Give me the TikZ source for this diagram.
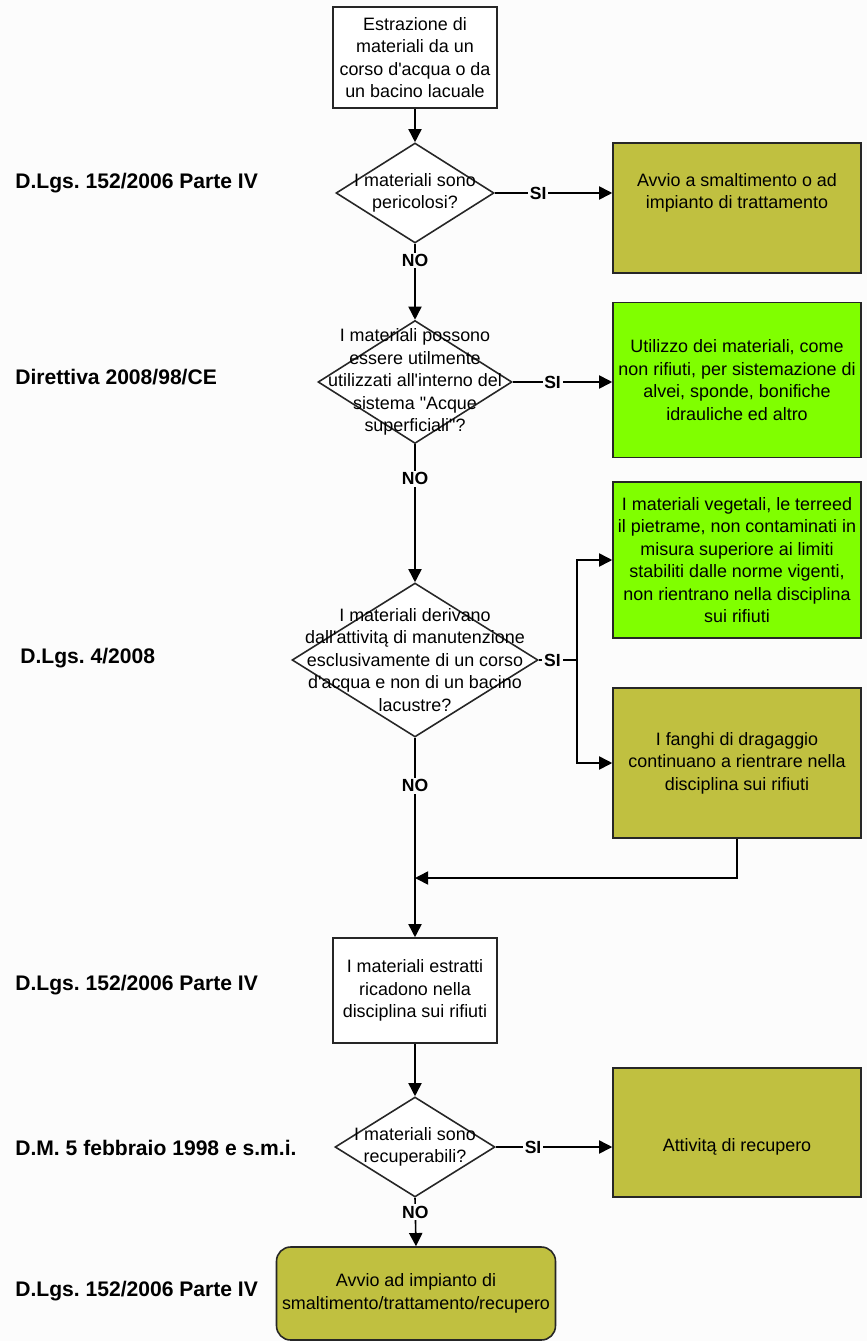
\documentclass[tikz,border=0pt]{standalone}
\usepackage{fontspec}
\setmainfont{Liberation Sans}[Ligatures=TeXOff]
\usetikzlibrary{shapes.geometric,arrows.meta,calc}
\definecolor{olivebox}{HTML}{C0C040}
\definecolor{greenbox}{HTML}{80FF00}
\definecolor{paper}{HTML}{FCFCFC}
\frenchspacing

\begin{document}
\begin{tikzpicture}[
  x=0.02cm,y=-0.02cm,
  font=\fontsize{10.2}{12.8}\selectfont,
  stepbox/.style={rectangle,draw=black!85,fill=white,line width=0.9pt,align=center,inner sep=0pt,minimum width=3.28cm},
  decision/.style={diamond,draw=black!85,fill=white,line width=0.9pt,inner sep=0pt},
  qtext/.style={align=center,inner sep=0pt},
  outbox/.style={rectangle,draw=black!85,fill=olivebox,line width=0.9pt,align=center,inner sep=0pt,minimum width=4.96cm},
  okbox/.style={rectangle,draw=black!85,fill=greenbox,line width=0.9pt,align=center,inner sep=0pt,minimum width=4.96cm},
  norm/.style={anchor=west,inner sep=0pt,font=\bfseries\fontsize{12}{14}\selectfont},
  answer/.style={fill=paper,inner sep=1pt,font=\bfseries\fontsize{10}{12}\selectfont},
  arrow/.style={-{Triangle[length=7.5pt,width=7.5pt]},line width=0.9pt},
  link/.style={line width=0.9pt}
]
\fill[paper] (0,0) rectangle (867,1341);
\useasboundingbox (0,0) rectangle (867,1341);

% left column: reference norms
\node[norm] (n1) at (15,183) {D.Lgs. 152/2006 Parte IV};
\node[norm] (n2) at (15,377) {Direttiva 2008/98/CE};
\node[norm] (n3) at (20,658) {D.Lgs. 4/2008};
\node[norm] (n4) at (15,985) {D.Lgs. 152/2006 Parte IV};
\node[norm] (n5) at (15,1148) {D.M. 5 febbraio 1998 e s.m.i.};
\node[norm] (n6) at (15,1291) {D.Lgs. 152/2006 Parte IV};

% main column
\node[stepbox,minimum height=2.02cm] (start) at (415,57.5) {Estrazione di\\materiali da un\\corso d'acqua o da\\un bacino lacuale};

\node[decision,minimum width=3.16cm,minimum height=2cm] (q1) at (415,193) {};
\node[qtext] (q1t) at (q1) {I materiali sono\\pericolosi?};

\node[decision,minimum width=3.88cm,minimum height=2.46cm] (q2) at (415,382) {};
\node[qtext] (q2t) at (q2) {I materiali possono\\essere utilmente\\utilizzati all'interno del\\sistema "Acque\\superficiali"?};

\node[decision,minimum width=4.92cm,minimum height=3.08cm] (q3) at (415,660) {};
\node[qtext] (q3t) at (q3) {I materiali derivano\\dall'attivitą di manutenzione\\esclusivamente di un corso\\d'acqua e non di un bacino\\lacustre?};

\coordinate (merge) at (415,878);

\node[stepbox,minimum height=2.1cm] (rifiuti) at (415,990.5) {I materiali estratti\\ricadono nella\\disciplina sui rifiuti};

\node[decision,minimum width=3.2cm,minimum height=2cm] (q4) at (415,1147) {};
\node[qtext] (q4t) at (q4) {I materiali sono\\recuperabili?};

\node[outbox,rounded corners=8pt,minimum width=5.58cm,minimum height=1.86cm] (impianto) at (416,1293.5) {Avvio ad impianto di\\smaltimento/trattamento/recupero};

% right column: outcomes
\node[outbox,minimum height=2.6cm] (smalt) at (737,208) {};
\node[qtext] (smaltt) at (q1 -| smalt) {Avvio a smaltimento o ad\\impianto di trattamento};

\node[okbox,minimum height=3.1cm] (utilizzo) at (737,380) {Utilizzo dei materiali, come\\non rifiuti, per sistemazione di\\alvei, sponde, bonifiche\\idrauliche ed altro};

\coordinate (split) at (577,660);
\node[okbox,minimum height=3.12cm] (vegetali) at (737,560) {I materiali vegetali, le terreed\\il pietrame, non contaminati in\\misura superiore ai limiti\\stabiliti dalle norme vigenti,\\non rientrano nella disciplina\\sui rifiuti};
\node[outbox,minimum height=3cm] (fanghi) at (737,763) {I fanghi di dragaggio\\continuano a rientrare nella\\disciplina sui rifiuti};

\node[outbox,minimum height=2.58cm] (recupero) at (737,1132.5) {};
\node[qtext] (recuperot) at (q4 -| recupero) {Attivitą di recupero};

% connectors
\draw[arrow] (start) -- (q1);
\draw[arrow] (q1.east) -- node[answer,pos=0.37]{SI} (q1 -| smalt.west);
\draw[arrow] (q1.south) -- node[answer,pos=0.22]{NO} (q2.north);
\draw[arrow] (q2.east) -- node[answer,pos=0.4]{SI} (q2 -| utilizzo.west);
\draw[arrow] (q2.south) -- node[answer,pos=0.25]{NO} (q3.north);
\draw[link] (q3.east) -- node[answer,pos=0.36]{SI} (split);
\draw[arrow] (split) |- (vegetali.west);
\draw[arrow] (split) |- (fanghi.west);
\draw[arrow] (q3.south) -- node[answer,pos=0.24]{NO} (rifiuti.north);
\draw[arrow] (fanghi.south) |- (merge);
\draw[arrow] (rifiuti.south) -- (q4.north);
\draw[arrow] (q4.east) -- node[answer,pos=0.32]{SI} (q4 -| recupero.west);
\draw[arrow] (q4.south) -- node[answer,pos=0.3]{NO} (impianto.north);
\end{tikzpicture}
\end{document}
